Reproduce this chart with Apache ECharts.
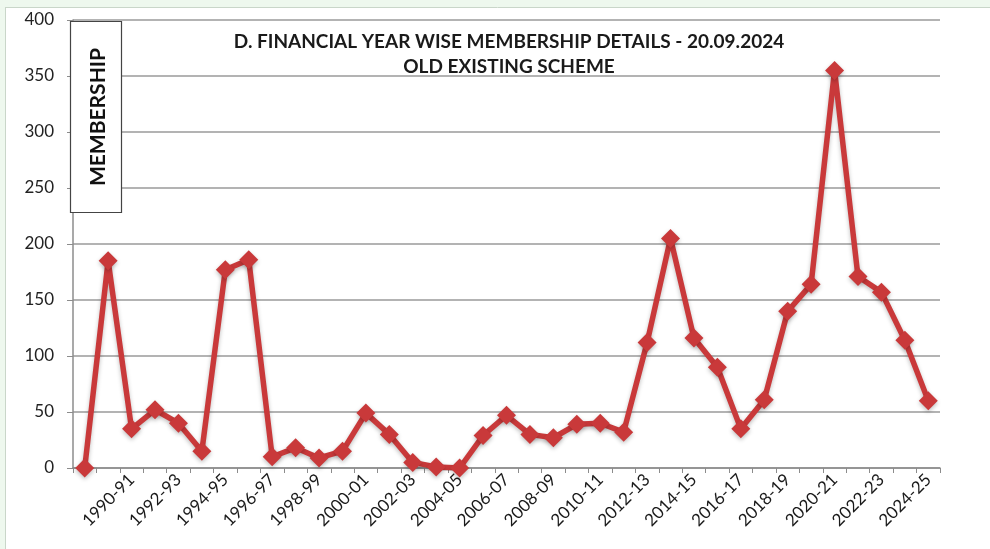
<!DOCTYPE html>
<html>
<head>
<meta charset="utf-8">
<script src="https://cdn.jsdelivr.net/npm/echarts@6/dist/echarts.min.js"></script>
<style>
html,body{margin:0;padding:0;background:#fff;}
#c{width:990px;height:549px;}
</style>
</head>
<body>
<div id="c"></div>
<script>
const categories = ["1988-89","1989-90","1990-91","1991-92","1992-93","1993-94","1994-95","1995-96","1996-97","1997-98","1998-99","1999-00","2000-01","2001-02","2002-03","2003-04","2004-05","2005-06","2006-07","2007-08","2008-09","2009-10","2010-11","2011-12","2012-13","2013-14","2014-15","2015-16","2016-17","2017-18","2018-19","2019-20","2020-21","2021-22","2022-23","2023-24","2024-25"];
const membership = [0,185,35,52,40,15,177,186,10,18,9,15,49,30,5,1,0,29,47,30,27,39,40,32,112,205,116,90,35,61,140,164,355,171,157,114,60];
const yTicks = {min:0, max:400, interval:50};
const titleLines = ["D. FINANCIAL YEAR WISE MEMBERSHIP DETAILS - 20.09.2024","OLD EXISTING SCHEME"];
const yAxisName = "MEMBERSHIP";

const chart = echarts.init(document.getElementById('c'), null, {renderer:'canvas'});
const lineColor = '#c9393a';
chart.setOption({
  backgroundColor:'#ffffff',
  animation:false,
  title:{
    text: titleLines.join('\n'),
    left: 504, top: 24, textAlign:'center',
    textStyle:{fontFamily:'Lato', fontWeight:'bold', fontSize:19, color:'#1a1a1a', lineHeight:25}
  },
  grid:{left:73, right:50, top:20, bottom:81, containLabel:false},
  xAxis:{
    type:'category', data:categories, boundaryGap:true,
    axisLine:{lineStyle:{color:'#8c8c8c', width:1.5}},
    axisTick:{show:true, length:5, lineStyle:{color:'#8c8c8c'}, interval:0},
    axisLabel:{
      interval:(i)=> i>0 && i%2===0,
      rotate:45, fontFamily:'Lato', fontSize:17, color:'#1a1a1a', margin:9
    },
    splitLine:{show:false}
  },
  yAxis:{
    type:'value', min:yTicks.min, max:yTicks.max, interval:yTicks.interval,
    axisLine:{show:true, lineStyle:{color:'#8c8c8c', width:1.5}},
    axisTick:{show:true, length:6, lineStyle:{color:'#8c8c8c'}},
    axisLabel:{fontFamily:'Lato', fontSize:17, color:'#222', margin:19},
    splitLine:{show:true, lineStyle:{color:'#9a9a9a', width:1.5}}
  },
  graphic:[
    {type:'rect', shape:{x:0,y:0,width:990,height:7}, style:{fill:'#eef8ee'}, z:-10, silent:true},
    {type:'rect', shape:{x:0,y:0,width:5,height:549}, style:{fill:'#eef8ee'}, z:-10, silent:true},
    {type:'line', shape:{x1:5,y1:7.5,x2:990,y2:7.5}, style:{stroke:'#c9d6c9', lineWidth:1}, silent:true},
    {type:'line', shape:{x1:5.5,y1:7,x2:5.5,y2:549}, style:{stroke:'#c9d6c9', lineWidth:1}, silent:true},
    {type:'rect', shape:{x:70.5,y:21.5,width:51,height:191}, style:{fill:'#ffffff', stroke:'#444', lineWidth:1.2}, z:50, silent:true},
    {type:'text', x:98, y:117, rotation:Math.PI/2, z:51, silent:true,
      style:{text:yAxisName, fontFamily:'Lato', fontWeight:'bold', fontSize:21, fill:'#111', align:'center', verticalAlign:'middle'}}
  ],
  series:[{
    type:'line', data:membership,
    showAllSymbol:true,
    symbol:'diamond', symbolSize:[19,19],
    lineStyle:{color:lineColor, width:5.5, shadowColor:'rgba(0,0,0,0.25)', shadowBlur:4, shadowOffsetY:2},
    itemStyle:{color:lineColor, shadowColor:'rgba(0,0,0,0.25)', shadowBlur:4, shadowOffsetY:2},
    z:5
  }]
});
</script>
</body>
</html>
